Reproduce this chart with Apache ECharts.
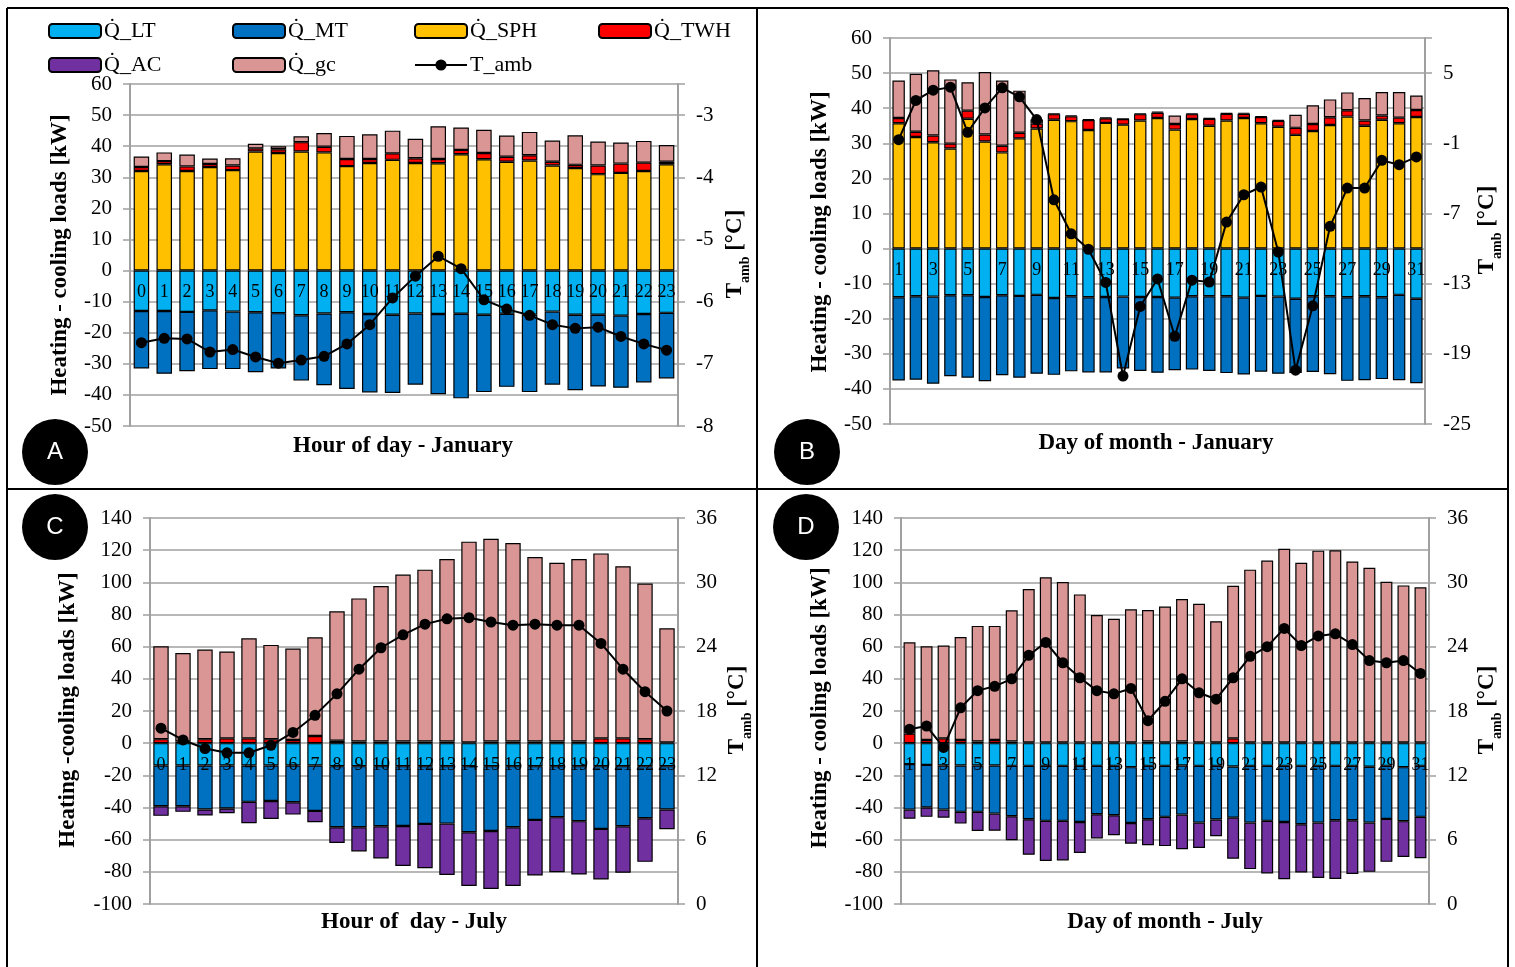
<!DOCTYPE html>
<html><head><meta charset="utf-8">
<script src="https://cdn.jsdelivr.net/npm/echarts@6/dist/echarts.min.js"></script>
<style>html,body{margin:0;padding:0;background:#fff}#c{width:1515px;height:967px}</style>
</head><body><div id="c"></div>
<script>
// ---------- tick / category labels ----------
const hourLabels = ['0','1','2','3','4','5','6','7','8','9','10','11','12','13','14','15','16','17','18','19','20','21','22','23'];
const dayLabels = ['1','2','3','4','5','6','7','8','9','10','11','12','13','14','15','16','17','18','19','20','21','22','23','24','25','26','27','28','29','30','31'];

// ---------- Panel A : hour of day - January ----------
const aLT  = [-13.0,-13.0,-13.3,-12.8,-13.2,-13.4,-13.7,-14.4,-13.8,-13.4,-14.0,-14.2,-13.8,-14.0,-13.9,-14.2,-13.9,-14.2,-13.2,-14.2,-14.2,-14.5,-14.0,-13.6];
const aMT  = [-18.5,-20.2,-19.1,-18.9,-18.5,-19.3,-17.8,-21.0,-23.1,-24.7,-25.2,-25.2,-22.9,-25.8,-27.2,-24.9,-23.5,-24.9,-23.5,-24.3,-23.1,-23.2,-22.0,-21.1];
const aSPH = [32.0,34.2,32.0,33.3,32.3,38.3,37.8,38.3,38.0,33.6,34.6,35.6,34.6,34.5,37.4,35.8,35.0,35.4,33.8,33.0,31.0,31.4,32.0,34.2];
const aTWH = [1.3,1.0,1.5,1.0,1.5,1.0,1.2,3.0,1.8,2.3,1.3,2.1,1.5,1.4,1.4,2.0,1.6,1.7,1.2,1.0,2.8,3.0,2.7,0.8];
const aGC  = [3.4,2.8,3.8,1.7,2.3,1.5,1.0,1.9,4.4,7.4,7.9,7.3,6.3,10.5,7.2,7.5,6.8,7.5,6.8,9.5,7.7,6.8,7.0,5.4];
const aT   = [-6.66,-6.59,-6.60,-6.81,-6.77,-6.89,-6.99,-6.94,-6.88,-6.68,-6.37,-5.94,-5.59,-5.27,-5.47,-5.97,-6.12,-6.22,-6.37,-6.43,-6.41,-6.56,-6.68,-6.78];

// ---------- Panel B : day of month - January ----------
const bLT  = [-13.9,-13.6,-13.7,-13.3,-13.3,-13.8,-13.3,-13.5,-13.2,-14.1,-13.6,-13.9,-13.8,-13.7,-13.8,-13.8,-14.0,-13.6,-13.6,-13.6,-14.0,-13.5,-13.7,-14.3,-13.6,-13.6,-13.9,-13.6,-13.9,-13.2,-14.3];
const bMT  = [-23.7,-23.8,-24.8,-23.1,-23.5,-24.0,-22.8,-23.3,-22.5,-21.9,-21.4,-21.4,-21.5,-20.5,-21.1,-21.6,-20.7,-20.9,-21.3,-21.9,-21.9,-21.6,-22.0,-21.2,-21.6,-22.2,-23.8,-23.9,-23.3,-24.3,-24.1];
const bSPH = [35.7,31.8,30.3,28.5,37.0,30.5,27.4,31.4,34.2,36.7,36.3,33.8,35.8,35.3,36.5,37.2,33.9,36.9,35.0,36.5,37.2,35.7,34.7,32.4,33.5,35.2,37.6,35.0,36.7,35.7,37.5];
const bTWH = [1.5,1.5,1.9,1.4,2.3,2.0,1.9,1.6,1.4,1.6,1.4,2.8,1.3,1.6,1.8,1.5,1.6,1.4,2.0,1.9,1.2,1.8,1.7,2.0,2.0,2.2,1.8,1.5,1.2,1.6,2.0];
const bGC  = [10.7,16.5,18.6,18.3,8.1,17.8,18.6,12.0,1.2,0.2,0.3,0.3,0.3,0.1,0.2,0.3,2.4,0.2,0.2,0.2,0.3,0.2,0.3,3.7,5.3,5.1,5.1,6.4,6.7,7.3,4.1];
const bT   = [-0.69,2.66,3.54,3.80,-0.06,2.02,3.74,2.97,1.03,-5.83,-8.74,-10.06,-12.9,-20.9,-14.95,-12.6,-17.5,-12.7,-12.86,-7.74,-5.4,-4.74,-10.3,-20.4,-14.9,-8.1,-4.83,-4.83,-2.46,-2.83,-2.17];

// ---------- Panel C : hour of day - July ----------
const cLT  = [-13.9,-13.9,-13.9,-13.9,-13.9,-13.9,-13.9,-13.9,-14.3,-14.3,-14.3,-14.3,-14.3,-14.3,-14.3,-14.3,-14.3,-14.3,-14.3,-14.3,-14.3,-14.3,-14.3,-14.3];
const cMT  = [-25.3,-25.3,-27.3,-26.7,-22.6,-22.1,-22.8,-28.2,-38.0,-38.0,-37.4,-37.2,-35.9,-35.7,-41.1,-40.3,-38.0,-33.4,-31.7,-34.2,-39.0,-37.4,-32.4,-26.9];
const cAC  = [-6.0,-3.5,-3.8,-2.9,-13.3,-11.1,-7.7,-7.1,-9.8,-15.0,-20.0,-24.8,-27.5,-31.9,-33.4,-36.0,-36.5,-34.6,-34.2,-33.2,-31.5,-28.9,-27.1,-12.3];
const cTWH = [2.5,1.0,2.5,3.0,3.0,2.5,2.0,4.5,1.5,1.0,1.0,1.0,1.0,1.0,0.5,1.0,1.0,1.0,1.0,1.0,3.0,3.0,2.5,0.5];
const cGC  = [57.7,55.0,55.7,54.0,62.2,58.6,56.8,61.3,80.5,89.0,96.7,103.8,106.9,113.5,124.8,126.1,123.4,114.7,111.2,113.5,115.0,107.0,96.7,70.9];
const cT   = [16.4,15.3,14.5,14.1,14.1,14.8,16.0,17.6,19.6,21.9,23.9,25.1,26.1,26.6,26.7,26.3,26.0,26.1,26.0,26.0,24.3,21.9,19.8,18.0];

// ---------- Panel D : day of month - July ----------
const dLT  = [-13.0,-13.5,-13.9,-13.9,-13.9,-13.9,-14.1,-14.1,-14.1,-14.1,-14.1,-14.1,-14.1,-14.9,-14.1,-14.1,-13.9,-14.1,-14.1,-14.5,-14.1,-14.1,-14.1,-14.1,-14.1,-14.1,-14.1,-14.7,-14.1,-14.9,-14.1];
const dMT  = [-28.3,-26.5,-27.4,-28.8,-28.8,-29.9,-31.3,-33.2,-34.2,-34.2,-34.9,-30.1,-30.7,-34.7,-33.2,-31.7,-30.5,-35.3,-33.4,-31.8,-35.3,-34.2,-34.9,-36.3,-35.3,-33.8,-33.8,-34.7,-33.0,-33.6,-31.7];
const dAC  = [-5.7,-5.8,-5.0,-7.3,-11.9,-10.7,-15.0,-22.1,-25.0,-24.6,-19.3,-15.0,-12.5,-12.9,-16.2,-18.2,-21.6,-15.8,-10.4,-25.5,-28.9,-32.7,-35.6,-30.0,-34.4,-36.5,-33.4,-30.6,-26.7,-22.3,-25.7];
const dTWH = [6.0,2.0,3.0,2.0,1.0,2.0,1.0,0.5,0.5,0.5,0.5,0.5,0.5,0.5,1.0,0.5,1.0,0.5,0.5,3.0,0.5,0.5,0.5,0.5,0.5,0.5,0.5,0.5,0.5,0.5,0.5];
const dGC  = [56.7,58.2,57.7,64.0,71.9,70.9,81.6,95.4,102.6,99.7,92.0,79.2,76.9,82.7,81.8,84.4,88.6,86.2,75.3,94.9,107.4,113.0,120.4,111.7,119.2,119.4,112.5,108.6,99.9,97.6,96.4];
const dT   = [16.3,16.6,14.6,18.3,19.9,20.3,21.0,23.2,24.4,22.5,21.1,19.9,19.6,20.1,17.1,18.9,21.0,19.7,19.1,21.1,23.1,24.0,25.7,24.1,25.0,25.2,24.2,22.7,22.5,22.7,21.5];

// ---------- styling ----------
const SERIF = '"Liberation Serif","Times New Roman",serif';
const GRAY = '#a0a0a0';
const NAMES = {LT:'Q\u0307_LT', MT:'Q\u0307_MT', SPH:'Q\u0307_SPH', TWH:'Q\u0307_TWH', AC:'Q\u0307_AC', GC:'Q\u0307_gc', T:'T_amb'};
const COLORS = {LT:'#00B0F0', MT:'#0070C0', SPH:'#FFC000', TWH:'#FF0000', AC:'#7030A0', GC:'#D99694'};

const grids = [
  {left:130, top:84,  width:548, height:342},
  {left:890, top:38,  width:535, height:386},
  {left:150, top:518, width:528, height:386},
  {left:901, top:518, width:528, height:386}
];
// category labels sit just below the zero line (labelShift = distance from grid bottom, px)
const panelCfg = [
  {cats:hourLabels, lint:0, yMin:-50,  yMax:60,  yInt:10, tMin:-8,  tMax:-2.5, tInt:1, barW:'68%', labelShift:143},
  {cats:dayLabels,  lint:1, yMin:-50,  yMax:60,  yInt:10, tMin:-25, tMax:8,    tInt:6, barW:'72%', labelShift:163},
  {cats:hourLabels, lint:0, yMin:-100, yMax:140, yInt:20, tMin:0,   tMax:36,   tInt:6, barW:'70%', labelShift:148},
  {cats:dayLabels,  lint:1, yMin:-100, yMax:140, yInt:20, tMin:0,   tMax:36,   tInt:6, barW:'70%', labelShift:148}
];
const panelSeries = [
  {LT:aLT, MT:aMT, SPH:aSPH, TWH:aTWH, GC:aGC, T:aT},
  {LT:bLT, MT:bMT, SPH:bSPH, TWH:bTWH, GC:bGC, T:bT},
  {LT:cLT, MT:cMT, AC:cAC, TWH:cTWH, GC:cGC, T:cT},
  {LT:dLT, MT:dMT, AC:dAC, TWH:dTWH, GC:dGC, T:dT}
];

const xAxes = [], yAxes = [], series = [];
grids.forEach((g, i) => {
  const cfg = panelCfg[i];
  xAxes.push({
    type:'category', gridIndex:i, data:cfg.cats, z:10, position:'bottom',
    axisLine:{show:false, onZero:false},
    axisTick:{show:false},
    axisLabel:{interval:cfg.lint, color:'#000', fontFamily:SERIF, fontSize:18, margin:-cfg.labelShift}
  });
  yAxes.push({
    type:'value', gridIndex:i, position:'left', min:cfg.yMin, max:cfg.yMax, interval:cfg.yInt,
    axisLine:{show:true, lineStyle:{color:GRAY, width:2}},
    axisTick:{show:true, length:7, lineStyle:{color:GRAY, width:1.5}},
    splitLine:{show:true, lineStyle:{color:GRAY, width:1.5}},
    axisLabel:{color:'#000', fontFamily:SERIF, fontSize:21, margin:18}
  });
  yAxes.push({
    type:'value', gridIndex:i, position:'right', min:cfg.tMin, max:cfg.tMax, interval:cfg.tInt,
    axisLine:{show:true, lineStyle:{color:GRAY, width:2}},
    axisTick:{show:true, length:7, lineStyle:{color:GRAY, width:1.5}},
    splitLine:{show:false},
    axisLabel:{color:'#000', fontFamily:SERIF, fontSize:21, margin:18,
      formatter:(v) => (Number.isInteger(v) && !(i === 1 && v === cfg.tMax)) ? String(v) : ''}
  });
  const s = panelSeries[i];
  ['LT','MT','AC','SPH','TWH','GC'].forEach(k => {
    if (!s[k]) return;
    series.push({
      name:NAMES[k], type:'bar', xAxisIndex:i, yAxisIndex:i*2, stack:'st'+i,
      barWidth:cfg.barW, data:s[k],
      itemStyle:{color:COLORS[k], borderColor:'#000', borderWidth:1.2},
      emphasis:{disabled:true}
    });
  });
  series.push({
    name:NAMES.T, type:'line', xAxisIndex:i, yAxisIndex:i*2+1, data:s.T, z:12,
    symbol:'circle', symbolSize:11, lineStyle:{color:'#000', width:2},
    itemStyle:{color:'#000'}, emphasis:{disabled:true}
  });
});

// legends (placed as in panel A)
const legendPos = [
  [NAMES.LT, 48, 20], [NAMES.MT, 232, 20], [NAMES.SPH, 414, 20], [NAMES.TWH, 598, 20],
  [NAMES.AC, 48, 54], [NAMES.GC, 232, 54], [NAMES.T, 414, 54]
];
const legends = legendPos.map(([n, x, y]) => ({
  data:[n], left:x, top:y, orient:'horizontal', itemWidth:52, itemHeight:14, itemGap:4,
  selectedMode:false, padding:0,
  textStyle:{color:'#000', fontFamily:SERIF, fontSize:22, padding:[0,0,0,-2]}
}));

// titles & decorations
function txt(x, y, text, rot, font) {
  return {type:'text', x, y, rotation:rot || 0, z:20,
    style:{text, fill:'#000', font:font || ('bold 23px ' + SERIF),
      align:'center', verticalAlign:'middle', textAlign:'center', textVerticalAlign:'middle'}};
}
function tamb(x, y) {
  return {type:'text', x, y, rotation:Math.PI/2, z:20,
    style:{text:'{t|T}{s|amb}{t| [°C]}', fill:'#000',
      align:'center', verticalAlign:'middle', textAlign:'center', textVerticalAlign:'middle',
      rich:{t:{fontFamily:SERIF, fontWeight:'bold', fontSize:23, padding:[0,0,5,0]},
            s:{fontFamily:SERIF, fontWeight:'bold', fontSize:14, verticalAlign:'bottom'}}}};
}
function badge(cx, cy, letter) {
  return [
    {type:'circle', shape:{cx, cy, r:33}, style:{fill:'#000'}, z:20},
    {type:'text', x:cx, y:cy, z:21, style:{text:letter, fill:'#fff', font:'24px "Liberation Sans",sans-serif',
      align:'center', verticalAlign:'middle', textAlign:'center', textVerticalAlign:'middle'}}
  ];
}
function ln(x1, y1, x2, y2) {
  return {type:'line', shape:{x1, y1, x2, y2}, style:{stroke:'#000', lineWidth:2}, z:30};
}
const graphics = [
  ln(7,8,1508,8), ln(7,8,7,967), ln(1508,8,1508,967), ln(757,8,757,967), ln(7,489,1508,489),
  txt(60, 255, 'Heating - cooling loads [kW]', Math.PI/2),
  txt(820, 232, 'Heating - cooling loads [kW]', Math.PI/2),
  txt(68, 710, 'Heating -cooling loads [kW]', Math.PI/2),
  txt(820, 708, 'Heating - cooling loads [kW]', Math.PI/2),
  tamb(738, 254), tamb(1490, 230), tamb(740, 710), tamb(1490, 710),
  txt(403, 446, 'Hour of day - January'),
  txt(1156, 443, 'Day of month - January'),
  txt(414, 922, 'Hour of  day - July'),
  txt(1165, 922, 'Day of month - July'),
  ...badge(55, 452, 'A'), ...badge(807, 452, 'B'), ...badge(55, 527, 'C'), ...badge(806, 527, 'D')
];

const chart = echarts.init(document.getElementById('c'), null, {renderer:'canvas'});
chart.setOption({
  animation:false,
  backgroundColor:'#fff',
  textStyle:{fontFamily:SERIF},
  grid:grids.map(g => Object.assign({containLabel:false, outerBoundsMode:'none'}, g)),
  xAxis:xAxes, yAxis:yAxes, series, legend:legends,
  tooltip:{show:false},
  graphic:graphics
});
</script>
</body></html>
